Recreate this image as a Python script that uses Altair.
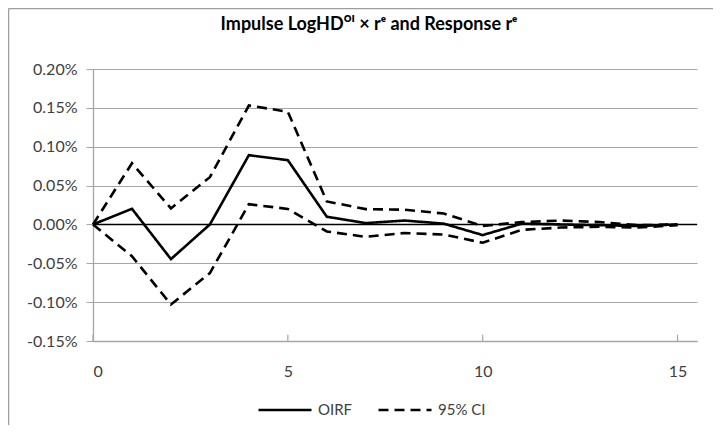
import altair as alt
import pandas as pd

steps = list(range(16))
oirf = [0.0, 0.0201, -0.0446, 0.0, 0.0891, 0.0827, 0.0099, 0.0017, 0.005, 0.001,
        -0.0137, 0.001, 0.0, -0.001, -0.002, 0.0]
upper = [0.0, 0.0788, 0.0206, 0.0608, 0.153, 0.145, 0.0296, 0.0197, 0.019, 0.014,
         -0.002, 0.003, 0.005, 0.003, -0.001, 0.0]
lower = [0.0, -0.041, -0.103, -0.0626, 0.026, 0.020, -0.009, -0.016, -0.011, -0.013,
         -0.0236, -0.007, -0.004, -0.003, -0.004, -0.001]

y_ticks = [-0.15, -0.10, -0.05, 0.0, 0.05, 0.10, 0.15, 0.20]
x_ticks = [0, 5, 10, 15]

rows = []
for s, a, u, l in zip(steps, oirf, upper, lower):
    rows.append({"step": s, "value": a, "series": "OIRF", "kind": "OIRF"})
    rows.append({"step": s, "value": u, "series": "upper", "kind": "95% CI"})
    rows.append({"step": s, "value": l, "series": "lower", "kind": "95% CI"})
df = pd.DataFrame(rows)

FONT = "Lato"
W, H = 604, 272

xs = alt.Scale(domain=[0, 15.5], nice=False, zero=False)
ys = alt.Scale(domain=[-0.15, 0.20], nice=False, zero=False)

lines = alt.Chart(df).mark_line(strokeWidth=2.6, color="black").encode(
    x=alt.X("step:Q", scale=xs, title=None,
            axis=alt.Axis(values=x_ticks, tickCount=20, grid=False, tickSize=0, labelPadding=22,
                          labelOverlap=False,
                          domainColor="#a6a6a6", domainWidth=1.3)),
    y=alt.Y("value:Q", scale=ys, title=None,
            axis=alt.Axis(values=y_ticks, tickCount=20, grid=True, gridColor="#a6a6a6", gridWidth=1.2,
                          tickSize=7, tickColor="#a6a6a6", labelPadding=9,
                          labelOverlap=False,
                          domainColor="#a6a6a6", domainWidth=1.3,
                          labelExpr="(datum.value < -0.00001 ? '-' : '') + format(abs(datum.value), '.2f') + '%'")),
    strokeDash=alt.StrokeDash("kind:N",
        scale=alt.Scale(domain=["OIRF", "95% CI"], range=[[1, 0], [10, 6]]),
        legend=alt.Legend(title=None, orient="none", direction="horizontal",
                          legendX=164, legendY=313, symbolType="stroke",
                          symbolSize=2809, symbolStrokeWidth=2.6,
                          symbolStrokeColor="black", columnPadding=20, labelOffset=5,
                          labelFontSize=15, labelFont=FONT, labelColor="#404040")),
    detail="series:N",
)

zero = alt.Chart(pd.DataFrame({"z": [0.0]})).mark_rule(color="black", strokeWidth=1.4).encode(
    y=alt.Y("z:Q", scale=ys)
)

xt = alt.Chart(pd.DataFrame({"t": x_ticks})).mark_rule(color="#a6a6a6", strokeWidth=1.2).encode(
    x=alt.X("t:Q", scale=xs),
    y=alt.Y(datum=-0.15),
    y2=alt.Y2(datum=-0.142),
)

border_left = alt.Chart(pd.DataFrame({"a": [0]})).mark_rule(color="#9e9e9e", strokeWidth=1.5).encode(
    x=alt.value(-84.5), y=alt.value(-60.5), y2=alt.value(420)
)
border_top = alt.Chart(pd.DataFrame({"a": [0]})).mark_rule(color="#9e9e9e", strokeWidth=1.5).encode(
    x=alt.value(-84.5), x2=alt.value(700), y=alt.value(-60.5)
)

chart = alt.layer(lines, zero, xt, border_left, border_top).properties(
    width=W, height=H,
    title=alt.Title("Impulse LogHDᴼᴵ × rᵉ and Response rᵉ", anchor="middle", frame="group",
                    dx=-26, offset=-26, fontSize=18, font=FONT, fontWeight="bold", color="black"),
    autosize=alt.AutoSizeParams(type="none"),
    padding={"left": 85, "top": 61, "right": 16, "bottom": 84},
).configure_view(stroke=None).configure_axis(
    labelFont=FONT, labelFontSize=16, labelColor="#404040"
)

chart.save("out.html", embed_options={"renderer": "svg", "actions": False})
